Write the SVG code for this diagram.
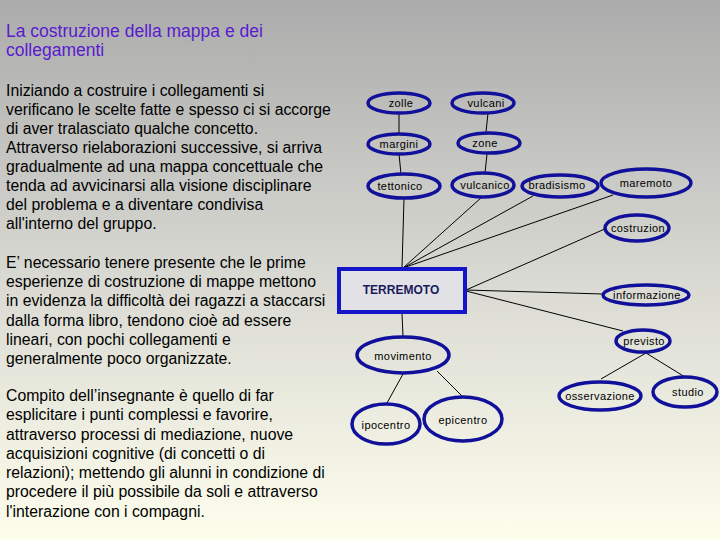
<svg xmlns="http://www.w3.org/2000/svg" width="720" height="540" viewBox="0 0 720 540">
<defs>
<linearGradient id="bg" x1="0" y1="0" x2="0" y2="1">
<stop offset="0" stop-color="#ababab"/>
<stop offset="0.5" stop-color="#d8d8d2"/>
<stop offset="1" stop-color="#fdfeec"/>
</linearGradient>
<style>
.t{font-family:"Liberation Sans",Arial,sans-serif;font-size:15.8px;fill:#000}
.title{font-family:"Liberation Sans",Arial,sans-serif;font-size:17.5px;fill:#5a1ad0}
.n ellipse{fill:none;stroke:#10109a;stroke-width:3.5}
.n text{font-family:"Liberation Sans",Arial,sans-serif;font-size:11px;fill:#000;text-anchor:middle;letter-spacing:0.4px}
#conn line{stroke:#000;stroke-width:1}
</style>
</defs>
<rect width="720" height="540" fill="url(#bg)"/>
<g id="title">
<text class="title" x="6" y="37">La costruzione della mappa e dei</text>
<text class="title" x="6" y="56">collegamenti</text>
</g>
<g id="para1">
<text class="t" x="6" y="96">Iniziando a costruire i collegamenti si</text>
<text class="t" x="6" y="115">verificano le scelte fatte e spesso ci si accorge</text>
<text class="t" x="6" y="134">di aver tralasciato qualche concetto.</text>
<text class="t" x="6" y="153">Attraverso rielaborazioni successive, si arriva</text>
<text class="t" x="6" y="172">gradualmente ad una mappa concettuale che</text>
<text class="t" x="6" y="191">tenda ad avvicinarsi alla visione disciplinare</text>
<text class="t" x="6" y="210">del problema e a diventare condivisa</text>
<text class="t" x="6" y="229">all'interno del gruppo.</text>
</g>
<g id="para2">
<text class="t" x="6" y="268">E’ necessario tenere presente che le prime</text>
<text class="t" x="6" y="287">esperienze di costruzione di mappe mettono</text>
<text class="t" x="6" y="306">in evidenza la difficoltà dei ragazzi a staccarsi</text>
<text class="t" x="6" y="326">dalla forma libro, tendono cioè ad essere</text>
<text class="t" x="6" y="345">lineari, con pochi collegamenti e</text>
<text class="t" x="6" y="364">generalmente poco organizzate.</text>
</g>
<g id="para3">
<text class="t" x="6" y="401">Compito dell’insegnante è quello di far</text>
<text class="t" x="6" y="420">esplicitare i punti complessi e favorire,</text>
<text class="t" x="6" y="440">attraverso processi di mediazione, nuove</text>
<text class="t" x="6" y="459">acquisizioni cognitive (di concetti o di</text>
<text class="t" x="6" y="478">relazioni); mettendo gli alunni in condizione di</text>
<text class="t" x="6" y="497">procedere il più possibile da soli e attraverso</text>
<text class="t" x="6" y="517">l'interazione con i compagni.</text>
</g>
<g id="conn">
<line x1="399" y1="113" x2="399" y2="133"/>
<line x1="399" y1="154" x2="401" y2="174"/>
<line x1="488" y1="113" x2="486" y2="132"/>
<line x1="487" y1="154" x2="485" y2="173"/>
<line x1="404" y1="198" x2="402" y2="268"/>
<line x1="482" y1="197" x2="403" y2="268"/>
<line x1="533" y1="196" x2="403" y2="268"/>
<line x1="613" y1="195" x2="403" y2="268"/>
<line x1="607" y1="228" x2="466" y2="290"/>
<line x1="466" y1="290" x2="603" y2="294"/>
<line x1="466" y1="291" x2="623" y2="331"/>
<line x1="646" y1="353" x2="601" y2="379"/>
<line x1="646" y1="353" x2="685" y2="377"/>
<line x1="402" y1="313" x2="403" y2="337"/>
<line x1="403" y1="374" x2="387" y2="403"/>
<line x1="437" y1="371" x2="463" y2="397"/>
</g>
<g id="n-zolle" class="n"><ellipse cx="399" cy="103" rx="31" ry="10"/><text x="401" y="107">zolle</text></g>
<g id="n-vulcani" class="n"><ellipse cx="483" cy="103" rx="31" ry="10"/><text x="486" y="107">vulcani</text></g>
<g id="n-margini" class="n"><ellipse cx="399" cy="144" rx="31" ry="10"/><text x="399" y="148">margini</text></g>
<g id="n-zone" class="n"><ellipse cx="489" cy="143" rx="31" ry="10"/><text x="485" y="147">zone</text></g>
<g id="n-tettonico" class="n"><ellipse cx="404" cy="186" rx="36" ry="12"/><text x="400" y="190">tettonico</text></g>
<g id="n-vulcanico" class="n"><ellipse cx="483" cy="185" rx="31" ry="12"/><text x="485" y="189">vulcanico</text></g>
<g id="n-bradisismo" class="n"><ellipse cx="560" cy="186" rx="38" ry="11"/><text x="557" y="189">bradisismo</text></g>
<g id="n-maremoto" class="n"><ellipse cx="646" cy="183" rx="45" ry="14"/><text x="646" y="187">maremoto</text></g>
<g id="n-costruzion" class="n"><ellipse cx="637" cy="228" rx="32" ry="13"/><text x="638" y="232">costruzion</text></g>
<g id="n-terremoto"><rect x="339" y="269" width="126" height="43" fill="#e2e2e6" stroke="#1414c8" stroke-width="4"/><text x="401" y="294" font-family="'Liberation Sans',Arial,sans-serif" font-size="12" font-weight="bold" fill="#1a1a5a" text-anchor="middle">TERREMOTO</text></g>
<g id="n-informazione" class="n"><ellipse cx="646" cy="295" rx="43" ry="10"/><text x="647" y="299">informazione</text></g>
<g id="n-previsto" class="n"><ellipse cx="643" cy="341" rx="27" ry="11"/><text x="644" y="345">previsto</text></g>
<g id="n-osservazione" class="n"><ellipse cx="600" cy="396" rx="41" ry="14"/><text x="600" y="400">osservazione</text></g>
<g id="n-studio" class="n"><ellipse cx="685" cy="392" rx="32" ry="15"/><text x="688" y="396">studio</text></g>
<g id="n-movimento" class="n"><ellipse cx="403" cy="355" rx="46" ry="18"/><text x="403" y="360">movimento</text></g>
<g id="n-ipocentro" class="n"><ellipse cx="386" cy="424" rx="34" ry="20"/><text x="386" y="429">ipocentro</text></g>
<g id="n-epicentro" class="n"><ellipse cx="463" cy="419" rx="39" ry="22"/><text x="463" y="424">epicentro</text></g>
</svg>
